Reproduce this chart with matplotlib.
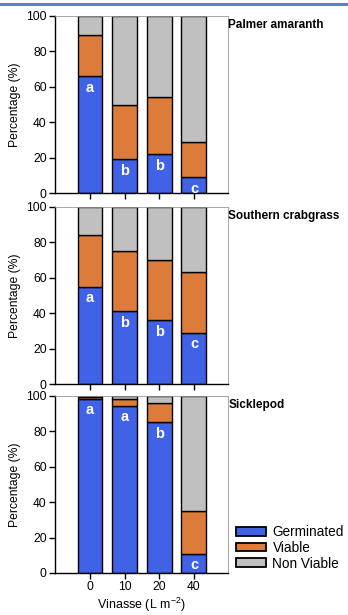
import numpy as np
import matplotlib.pyplot as plt
from matplotlib.lines import Line2D

plt.rcParams['font.family'] = ['Liberation Sans', 'DejaVu Sans']
plt.rcParams['mathtext.fontset'] = 'custom'
plt.rcParams['mathtext.rm'] = 'Liberation Sans'
plt.rcParams['mathtext.default'] = 'regular'

doses = ['0', '10', '20', '40']
species = ['Palmer amaranth', 'Southern crabgrass', 'Sicklepod']

# Germinated / Viable / Non viable percentages per species
germinated = [[66, 19, 22, 9],
              [55, 41, 36, 29],
              [98.5, 94.5, 85, 11]]
viable = [[23, 31, 32, 20],
          [29, 34, 34, 34],
          [1, 4, 11, 24]]
nonviable = [[11, 50, 46, 71],
             [16, 25, 30, 37],
             [0.5, 1.5, 4, 65]]
letters = [['a', 'b', 'b', 'c'],
           ['a', 'b', 'b', 'c'],
           ['a', 'a', 'b', 'c']]

c_germ = '#4062E6'
c_via = '#DD7C3A'
c_nv = '#C0C0C0'

fig = plt.figure(figsize=(3.48, 6.15), dpi=100)
fig.add_artist(Line2D([0, 1], [1 - 3.5/615, 1 - 3.5/615], color='#5585C5', lw=2.2))

bottoms = [0.686, 0.3756, 0.0683]
x = np.arange(len(doses))
for i in range(3):
    ax = fig.add_axes([0.158, bottoms[i], 0.497, 0.288])
    g = np.array(germinated[i])
    v = np.array(viable[i])
    n = np.array(nonviable[i])
    kw = dict(width=0.72, edgecolor='black', linewidth=1.0)
    ax.bar(x, g, color=c_germ, label='Germinated', **kw)
    ax.bar(x, v, bottom=g, color=c_via, label='Viable', **kw)
    ax.bar(x, n, bottom=g + v, color=c_nv, label='Non Viable', **kw)
    for j in range(len(doses)):
        ax.text(x[j], g[j] - 6.5, letters[i][j], color='white', fontweight='bold',
                fontsize=10.5, ha='center', va='center')
    ax.set_xlim(-1.01, 3.98)
    ax.set_ylim(0, 100)
    ax.set_yticks([0, 20, 40, 60, 80, 100])
    ax.set_xticks(x)
    if i == 2:
        ax.set_xticklabels(doses)
        ax.set_xlabel('Vinasse (L m$^{-2}$)', fontsize=9, labelpad=2)
    else:
        ax.set_xticklabels([])
    ax.set_ylabel('Percentage (%)', fontsize=8.7)
    ax.tick_params(labelsize=8.7, length=4, width=1, pad=2)
    ax.spines['left'].set_linewidth(1.0)
    ax.spines['bottom'].set_linewidth(1.0)
    for s in ['top', 'right']:
        ax.spines[s].set_color('#999999')
        ax.spines[s].set_linewidth(0.6)
    ax.text(1.003, 0.985, species[i], transform=ax.transAxes, fontweight='bold',
            fontsize=8.5, ha='left', va='top')
    if i == 2:
        leg = ax.legend(loc='lower left', bbox_to_anchor=(0.99, -0.04), frameon=False,
                        fontsize=9.8, handlelength=2.2, handleheight=0.6,
                        labelspacing=0.12, handletextpad=0.5, borderaxespad=0.3)
        for h in leg.legend_handles:
            h.set_linewidth(1.3)

fig.savefig('out.png', dpi=100)
